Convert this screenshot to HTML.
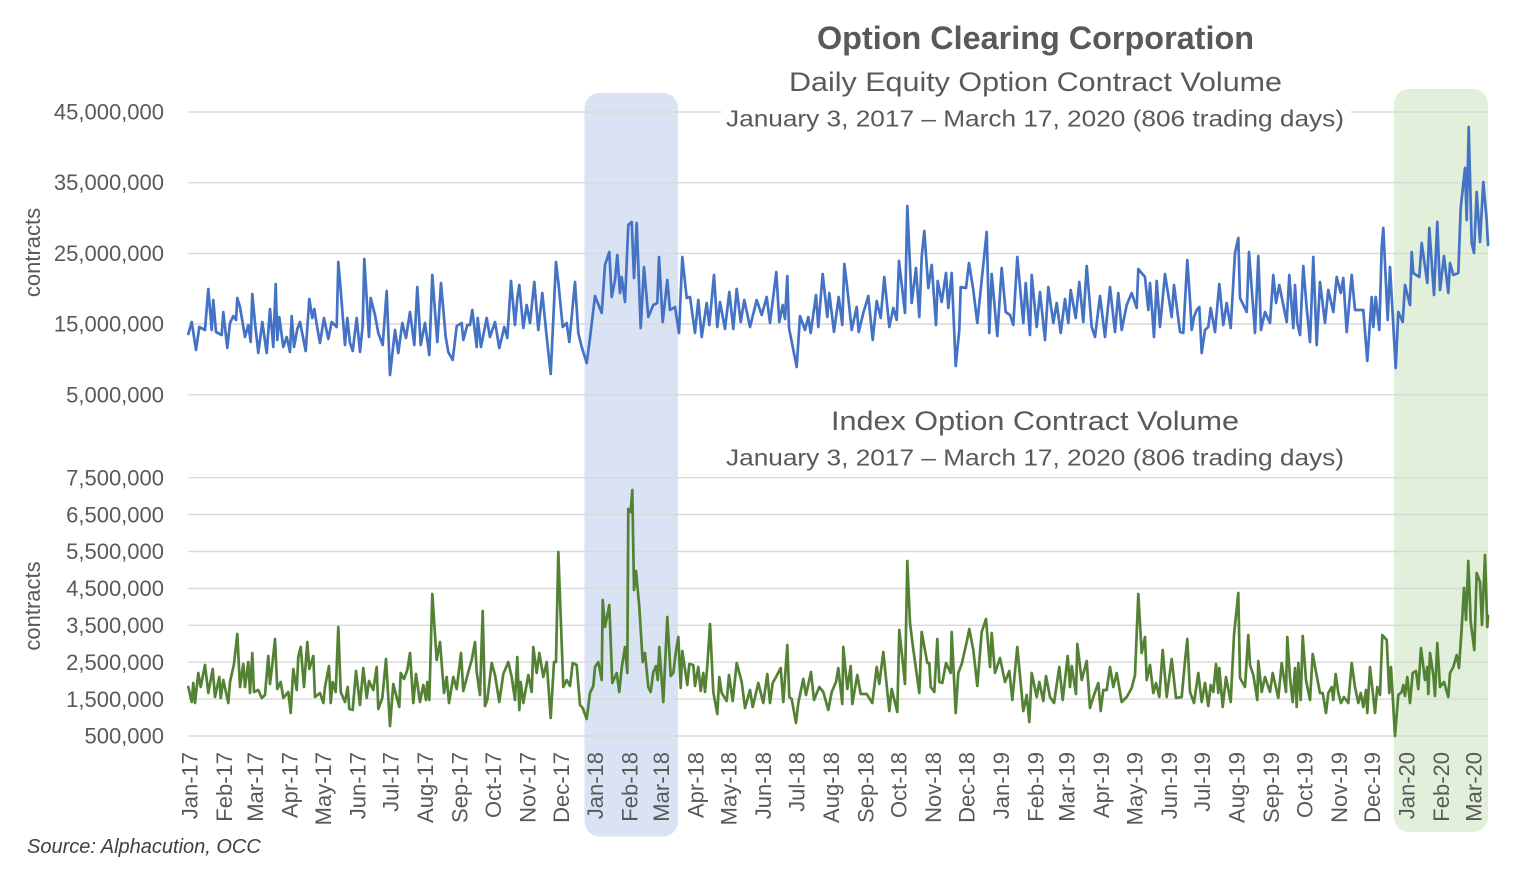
<!DOCTYPE html>
<html>
<head>
<meta charset="utf-8">
<style>
html,body{margin:0;padding:0;background:#fff;}
svg{display:block;}
text{font-family:"Liberation Sans",Arial,sans-serif;fill:#595959;}
</style>
</head>
<body>
<svg width="1524" height="875" viewBox="0 0 1524 875" xmlns="http://www.w3.org/2000/svg">
<rect x="0" y="0" width="1524" height="875" fill="#fff"/>
<!-- highlight boxes -->
<rect x="584.5" y="93" width="93.5" height="743.5" rx="15" ry="15" fill="#dae3f3"/>
<rect x="1394" y="89" width="94" height="743" rx="15" ry="15" fill="#e2efda"/>
<!-- gridlines -->
<g stroke="#d9d9d9" stroke-width="1.4">
<line x1="188.5" y1="112" x2="1488" y2="112"/>
<line x1="188.5" y1="182.7" x2="1488" y2="182.7"/>
<line x1="188.5" y1="253.4" x2="1488" y2="253.4"/>
<line x1="188.5" y1="324" x2="1488" y2="324"/>
<line x1="188.5" y1="394.7" x2="1488" y2="394.7"/>
<line x1="188.5" y1="477.7" x2="1488" y2="477.7"/>
<line x1="188.5" y1="514.6" x2="1488" y2="514.6"/>
<line x1="188.5" y1="551.5" x2="1488" y2="551.5"/>
<line x1="188.5" y1="588.4" x2="1488" y2="588.4"/>
<line x1="188.5" y1="625.3" x2="1488" y2="625.3"/>
<line x1="188.5" y1="662.2" x2="1488" y2="662.2"/>
<line x1="188.5" y1="699.1" x2="1488" y2="699.1"/>
<line x1="188.5" y1="736" x2="1488" y2="736"/>
</g>
<!-- equity series -->
<polyline fill="none" stroke="#4472c4" stroke-width="2.7" stroke-linejoin="round" stroke-linecap="round" points="188.3,334 191.7,322 196,350 199.3,327 205,330 208.3,289 211.7,330 213.3,300 216,332 221.7,335 223.3,312 227.3,348 230,323 233.3,316 236,320 237.3,298 240,307 245,337 248.3,325 250.7,342 252.3,294 255,323 258.3,353 262.3,322 266.7,353 270,309 273.3,347 275.7,284 277.3,340 279.3,317 283.3,347 286.7,337 290,352 291.7,316 294,347 297.3,329 300,322 305.7,351 309.3,299 312.3,318 314.3,309 317.3,328 320,343 324,318 328.3,339 331.7,322 336.7,327 338.3,262 340.7,290 345,345 347.3,318 350,343 352.7,351 356.7,318 360,352 362.7,325 364.3,259 369,337 370.7,298 375,315 378.3,333 382.7,345 386.7,291 390,375 395,330 398.3,353 402.3,323 406,338 410,312 414.3,345 417.3,287 420.7,345 425,323 429.3,355 432.3,275 437.3,342 441,283 445.7,337 448.3,352 452.7,360 456.7,326 461.7,323 463.3,340 467.3,325 470,325 472.3,310 476.7,347 477.7,318 481,347 486.7,318 490,337 495,322 499.3,348 504.3,327 507.3,338 511,281 515,325 517.3,298 519.3,285 523.3,328 526.7,305 530,323 534.3,282 538.3,330 542.3,293 546.7,337 550.7,374 556,262 558.3,282 562.7,327 566.7,323 569.3,342 575,282 578.3,333 581.7,347 586.7,363 590,338 595,296 601.7,313 605,265 609.3,252 611.7,297 615,280 617.3,255 620,293 621.7,277 625,302 628.3,225 631.7,222 634,278 636.7,223 640.7,328 644,267 648.3,317 653.3,305 657.3,303 659,257 662.7,322 667.3,280 670,310 675,307 679,333 682.3,257 686.7,298 690,297 695,333 698.3,300 701.7,337 706.7,303 709.3,325 714,275 717.3,327 720,302 725,329 729.3,292 733.3,329 736.7,289 740.7,322 744.3,300 750,327 756.7,300 761.7,315 766.7,297 770,323 776.3,272 779.3,322 782.7,305 785,319 787.3,276 789,328 796.7,367 800,316 805,330 808.3,317 810.7,333 816,295 818.3,327 822.7,274 827.3,317 829.3,293 834,332 838.7,297 842.3,325 844.3,264 846.7,283 851.7,330 856.7,307 858.7,332 863.3,313 868.3,296 872.7,340 876.7,301 880.7,318 884.3,277 889.3,327 893.3,308 896.7,320 899,261 905,313 907.3,206 911.7,303 916,268 919.3,317 921.7,257 924.3,231 928.3,288 931.7,265 936,325 937.7,281 941.7,302 946,273 948.3,308 951.7,273 955.7,366 959.3,330 960.7,287 966,288 969,263 973.3,290 977.3,323 981.7,280 986.7,232 989.3,333 991.7,274 997.3,336 1001.7,268 1005.7,312 1010,315 1013.3,325 1017.3,257 1023.3,323 1025.7,283 1030,335 1031.7,275 1036.7,327 1040,292 1045,340 1048.3,287 1053.3,323 1056.7,303 1060.7,333 1065,299 1068.3,323 1070.7,290 1075.7,318 1079.3,282 1083.3,322 1086.7,266 1091.7,327 1095,337 1100,296 1105,337 1110,287 1115,332 1118.3,293 1121.7,330 1126.7,305 1131.7,293 1136.7,308 1138.3,269 1145,277 1148.3,310 1150,283 1154,337 1156.7,281 1160,327 1165,274 1171.7,317 1174,285 1180,332 1183.3,333 1187.3,260 1190,300 1191.7,330 1194,317 1196.7,310 1199.3,307 1201.7,353 1205,330 1208.3,327 1210.7,308 1215,332 1219.3,284 1223.3,325 1226.7,303 1230.7,328 1235,253 1238.3,238 1240,298 1246.7,312 1249,252 1255,333 1258.3,256 1261,330 1265,312 1270,323 1273.3,275 1276,303 1279.3,285 1281.7,297 1286.7,322 1289.3,275 1293.3,328 1295,285 1297.3,323 1300,335 1303.3,266 1306.7,308 1310,342 1313.3,257 1316.7,345 1320,282 1325,323 1328.3,290 1333.3,312 1336.7,277 1340.7,293 1343.3,278 1346.7,332 1351.7,275 1355,310 1358.3,310 1363.3,310 1367.3,361 1371.7,297 1373.3,327 1375.7,297 1379.3,330 1381.7,247 1383.3,228 1387.7,320 1390,267 1395.7,368 1398.3,312 1402.7,322 1405,285 1410,305 1411.7,252 1413.3,273 1419.3,277 1421.7,243 1427.3,283 1429.3,228 1434,295 1437.3,222 1440,290 1444,256 1448.3,293 1450,263 1453.3,275 1458.3,273 1460.7,208 1465,168 1466.7,220 1468.7,127 1471.7,243 1474,253 1476.7,192 1480,242 1483.3,182 1486.7,220 1488,245"/>
<!-- index series -->
<polyline fill="none" stroke="#548235" stroke-width="2.7" stroke-linejoin="round" stroke-linecap="round" points="188.3,687 191.7,702 193.3,683 195,703 198.3,673 200.7,687 205,665 208.3,693 212.7,669 215,697 219.3,677 220.7,698 223.3,680 228.3,703 230,682 234,664 237.3,634 240,687 243.3,664 245,687 248.3,662 250,693 252.3,653 254,692 258.3,690 261.7,698 265,695 268.3,656 270,684 272.3,665 275,639 277.3,689 280.7,682 283.3,698 288.3,692 290.7,713 293.3,669 296.7,690 298.3,657 300.7,647 304,687 307.3,642 309.3,669 313.3,656 315,697 320,693 323.3,703 325,687 329,666 330.7,703 332.7,682 335.7,692 338.3,627 340.7,692 345,702 347.7,687 349.3,709 352.7,710 356,671 360,705 363.3,668 366.7,698 369,681 373.3,690 376.7,667 378.3,709 382.3,698 386,659 390,726 393.3,684 395,691 399.3,707 400.7,673 404,679 407.3,670 410,653 413.3,703 416,674 420,702 423.3,685 426,700 427.3,682 429.3,700 432.3,594 436.7,660 440,642 444,693 446.7,677 449,703 453.3,677 456.7,689 461,653 463.3,691 468.3,672 471.7,660 475,642 476.7,672 480,695 482.7,611 485,706 487.3,700 491.7,663 495,675 499.3,702 503.3,674 508.3,662 511.7,677 515,700 517.3,657 519.3,710 520.7,682 523.3,703 528.3,675 531.7,692 533.3,647 536.7,673 539.3,653 543.3,677 546.7,662 550.7,718 554,662 556,662 558.3,552 563.3,687 566.7,680 570,686 572.7,663 576.7,665 580,705 582.7,708 586.7,719 590,693 593.3,686 595,667 598.3,662 601.7,680 602.7,600 605,627 609.3,605 612.3,683 616.7,673 619.3,692 621.7,668 625,647 627.3,673 628.3,509 630.7,512 632.3,490 634,590 636,571 639.3,607 642.7,662 645,653 648.3,687 650.7,692 653.3,672 656,666 657.7,680 659.3,647 663.3,702 667.3,617 670.7,676 673.3,673 675.7,653 678.3,637 680.7,688 682.3,651 687.3,685 689.3,664 690,664 693.3,665 695,686 698.3,667 700.7,691 703.3,673 705,692 707.3,666 710,624 713.3,692 717.3,714 719.3,677 721.7,693 726.7,701 729,675 732.7,701 736.7,663 741.7,682 745,708 750,690 752.7,707 758.3,683 763.3,703 767.3,674 770,703 772.7,683 776,677 780.7,668 783.3,702 787.3,645 789.3,697 791.7,699 796,723 798.3,703 803.3,679 806,695 811,672 814,700 819.3,687 823.3,692 828.3,710 831.7,692 836,682 838.3,668 842.3,704 843.3,647 847.3,689 850.7,666 852.3,704 857.3,675 860.7,694 866.7,694 872.3,703 876.7,667 879.3,684 883.3,652 889.3,711 891.7,689 897.3,712 899.3,630 901.7,652 905,684 907.3,561 910,623 912.7,645 919.3,693 921.7,632 927.3,663 929.3,663 930.7,687 934.3,692 937.3,639 939.3,682 942.3,683 946,663 950.7,673 951.7,632 955.7,713 958.3,673 961.7,664 966.7,642 969.3,629 973.3,650 977.3,686 981.7,632 986,619 990,667 991.7,633 995,673 1000,658 1005,682 1009.3,671 1012.3,700 1017.3,647 1023.3,711 1026.7,695 1029.3,722 1031.7,673 1036.7,697 1039.3,682 1043.3,701 1046,676 1050,697 1054,703 1059.3,667 1062.7,700 1067.7,656 1070,687 1071.7,666 1076,694 1077.3,644 1081.7,680 1086.7,661 1090,708 1093.3,697 1098.3,683 1100.7,711 1103.3,690 1106.7,690 1110,667 1113.3,687 1116.7,673 1121.7,702 1126.7,697 1131.7,688 1135,675 1138.3,594 1141.7,653 1145,637 1146.7,680 1150,665 1153.3,693 1156,683 1159.3,697 1162.7,650 1166.7,697 1171.7,659 1176,698 1181.7,697 1185,661 1187.3,639 1190,692 1194,703 1198.3,673 1201.7,702 1205,683 1208.3,706 1210.7,685 1213.3,692 1216,664 1218.3,693 1219.3,668 1222.7,707 1226,677 1230.7,702 1234,635 1238.3,593 1240,678 1245,687 1248.3,635 1250,665 1253.3,675 1257.3,700 1258.3,661 1261.7,692 1265,677 1270,692 1272.7,673 1278.3,698 1281.7,663 1286,692 1287.3,637 1290,678 1292.7,702 1295,668 1296.7,707 1298.3,663 1300.7,700 1302.7,636 1306,680 1310,700 1312.7,654 1316,672 1320,693 1322.7,693 1326,713 1328.3,693 1331.7,687 1333.3,700 1335.7,674 1338.3,693 1341,703 1344,697 1348.3,703 1351.7,663 1355,687 1358.3,703 1360.7,693 1363.3,707 1366,690 1367.3,713 1370,667 1375,713 1377.3,687 1380,695 1382.3,635 1386.7,640 1389.3,693 1391,667 1395,736 1398.3,695 1401.7,692 1403.3,685 1405,696 1407.3,677 1410,703 1412.7,673 1416,671 1418.3,689 1421,648 1425,680 1427.3,667 1428.3,694 1430,653 1433.3,675 1435,696 1437.3,643 1440,687 1444,682 1448.3,697 1450,673 1453.3,667 1456.7,655 1459,668 1461.7,628 1464,588 1466,620 1468.3,561 1470.7,622 1474.3,650 1476.7,573 1480,582 1482,625 1485,555 1487.3,627 1488,616"/>
<!-- white title box hiding gridline -->
<rect x="721" y="58" width="630" height="78" fill="#fff"/>
<!-- titles -->
<text x="1035.5" y="49" font-size="32" font-weight="bold" text-anchor="middle" textLength="437" lengthAdjust="spacingAndGlyphs">Option Clearing Corporation</text>
<text x="1035.5" y="91" font-size="27" text-anchor="middle" textLength="493" lengthAdjust="spacingAndGlyphs">Daily Equity Option Contract Volume</text>
<text x="1035" y="126.5" font-size="23" text-anchor="middle" textLength="618" lengthAdjust="spacingAndGlyphs">January 3, 2017 – March 17, 2020 (806 trading days)</text>
<text x="1035" y="430" font-size="27" text-anchor="middle" textLength="408" lengthAdjust="spacingAndGlyphs">Index Option Contract Volume</text>
<text x="1035" y="465.5" font-size="23" text-anchor="middle" textLength="618" lengthAdjust="spacingAndGlyphs">January 3, 2017 – March 17, 2020 (806 trading days)</text>
<!-- y axis labels -->
<g font-size="22" text-anchor="end">
<text x="164" y="119.5">45,000,000</text>
<text x="164" y="190.2">35,000,000</text>
<text x="164" y="261">25,000,000</text>
<text x="164" y="331.7">15,000,000</text>
<text x="164" y="402.4">5,000,000</text>
<text x="164" y="485.4">7,500,000</text>
<text x="164" y="522.3">6,500,000</text>
<text x="164" y="559.2">5,500,000</text>
<text x="164" y="596.1">4,500,000</text>
<text x="164" y="633">3,500,000</text>
<text x="164" y="669.9">2,500,000</text>
<text x="164" y="706.8">1,500,000</text>
<text x="164" y="743.7">500,000</text>
</g>
<g font-size="22" text-anchor="middle">
<text transform="translate(40,252.5) rotate(-90)">contracts</text>
<text transform="translate(40,606) rotate(-90)">contracts</text>
</g>
<!-- x axis labels -->
<g font-size="22" text-anchor="end">
<text transform="translate(197.5,752) rotate(-90)">Jan-17</text>
<text transform="translate(232,752) rotate(-90)">Feb-17</text>
<text transform="translate(263.1,752) rotate(-90)">Mar-17</text>
<text transform="translate(297.5,752) rotate(-90)">Apr-17</text>
<text transform="translate(330.9,752) rotate(-90)">May-17</text>
<text transform="translate(365.4,752) rotate(-90)">Jun-17</text>
<text transform="translate(398.7,752) rotate(-90)">Jul-17</text>
<text transform="translate(433.2,752) rotate(-90)">Aug-17</text>
<text transform="translate(467.6,752) rotate(-90)">Sep-17</text>
<text transform="translate(501,752) rotate(-90)">Oct-17</text>
<text transform="translate(535.4,752) rotate(-90)">Nov-17</text>
<text transform="translate(568.8,752) rotate(-90)">Dec-17</text>
<text transform="translate(603.2,752) rotate(-90)">Jan-18</text>
<text transform="translate(637.7,752) rotate(-90)">Feb-18</text>
<text transform="translate(668.8,752) rotate(-90)">Mar-18</text>
<text transform="translate(703.3,752) rotate(-90)">Apr-18</text>
<text transform="translate(736.6,752) rotate(-90)">May-18</text>
<text transform="translate(771.1,752) rotate(-90)">Jun-18</text>
<text transform="translate(804.4,752) rotate(-90)">Jul-18</text>
<text transform="translate(838.9,752) rotate(-90)">Aug-18</text>
<text transform="translate(873.4,752) rotate(-90)">Sep-18</text>
<text transform="translate(906.7,752) rotate(-90)">Oct-18</text>
<text transform="translate(941.2,752) rotate(-90)">Nov-18</text>
<text transform="translate(974.5,752) rotate(-90)">Dec-18</text>
<text transform="translate(1009,752) rotate(-90)">Jan-19</text>
<text transform="translate(1043.4,752) rotate(-90)">Feb-19</text>
<text transform="translate(1074.6,752) rotate(-90)">Mar-19</text>
<text transform="translate(1109,752) rotate(-90)">Apr-19</text>
<text transform="translate(1142.4,752) rotate(-90)">May-19</text>
<text transform="translate(1176.8,752) rotate(-90)">Jun-19</text>
<text transform="translate(1210.2,752) rotate(-90)">Jul-19</text>
<text transform="translate(1244.6,752) rotate(-90)">Aug-19</text>
<text transform="translate(1279.1,752) rotate(-90)">Sep-19</text>
<text transform="translate(1312.4,752) rotate(-90)">Oct-19</text>
<text transform="translate(1346.9,752) rotate(-90)">Nov-19</text>
<text transform="translate(1380.2,752) rotate(-90)">Dec-19</text>
<text transform="translate(1414.7,752) rotate(-90)">Jan-20</text>
<text transform="translate(1449.2,752) rotate(-90)">Feb-20</text>
<text transform="translate(1481.4,752) rotate(-90)">Mar-20</text>
</g>
<text x="27" y="853" font-size="20" font-style="italic" style="fill:#404040">Source: Alphacution, OCC</text>
</svg>
</body>
</html>
